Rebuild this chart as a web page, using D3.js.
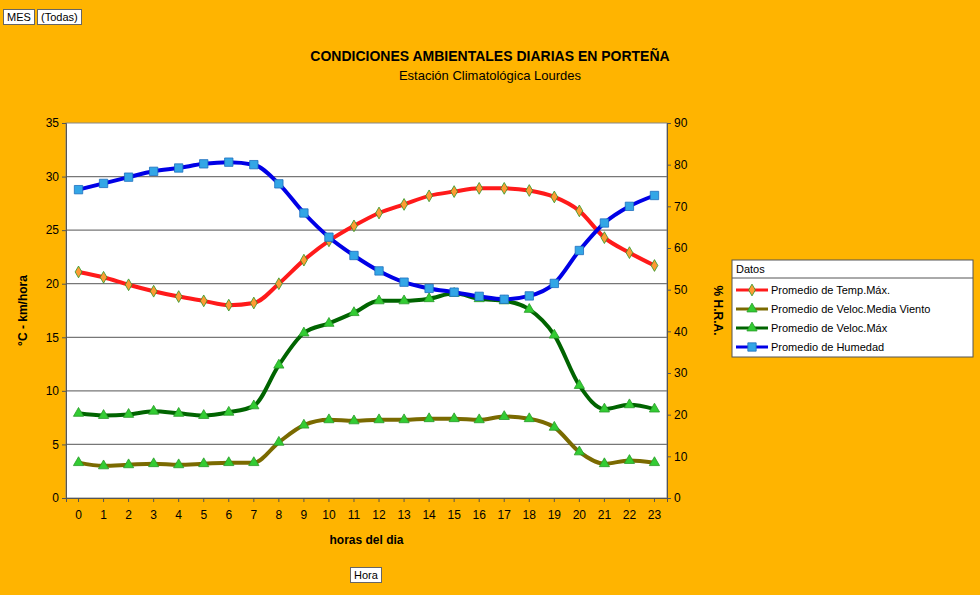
<!DOCTYPE html>
<html><head><meta charset="utf-8">
<script src="https://cdn.jsdelivr.net/npm/d3@7"></script>
<style>
body{margin:0;background:#FFB400;font-family:Arial,"Liberation Sans",sans-serif;}
.btn{position:absolute;background:#fff;border:1px solid #666;font-size:11px;padding:0 3px;line-height:14px;}
</style></head><body>
<div class="btn" style="left:3px;top:9px;">MES</div>
<div class="btn" style="left:37px;top:9px;">(Todas)</div>
<div class="btn" style="left:350px;top:567px;">Hora</div>
<svg id="chart"></svg>
<script>
const horas = d3.range(0, 24);
const tempMax = [21.1,20.6,19.9,19.3,18.8,18.4,18.0,18.2,20.0,22.2,24.0,25.4,26.6,27.4,28.2,28.6,28.9,28.9,28.7,28.1,26.8,24.3,22.9,21.7];
const velMedia = [3.3,3.0,3.1,3.2,3.1,3.2,3.3,3.3,5.2,6.8,7.3,7.2,7.3,7.3,7.4,7.4,7.3,7.6,7.4,6.6,4.3,3.2,3.5,3.3];
const velMax = [7.9,7.7,7.8,8.1,7.9,7.7,8.0,8.6,12.4,15.4,16.3,17.3,18.4,18.4,18.6,19.1,18.6,18.4,17.6,15.2,10.5,8.3,8.7,8.3];
const humedad = [74.0,75.5,77.0,78.4,79.2,80.2,80.6,80.0,75.4,68.4,62.6,58.2,54.5,51.8,50.3,49.4,48.4,47.7,48.5,51.5,59.4,66.0,70.0,72.6];
const leftTicks = [0,5,10,15,20,25,30,35];
const rightTicks = [0,10,20,30,40,50,60,70,80,90];

const svg = d3.select('#chart').attr('width', 980).attr('height', 595);
const x0 = 66, x1 = 667, yTop = 123, yBot = 498;
const xScale = d3.scaleBand().domain(horas).range([x0, x1]);
const cx = d => xScale(d) + xScale.bandwidth() / 2;
const yL = d3.scaleLinear().domain([0, 35]).range([yBot, yTop]);
const yR = d3.scaleLinear().domain([0, 90]).range([yBot, yTop]);

svg.append('text').attr('x', 490).attr('y', 61).attr('text-anchor', 'middle')
  .style('font-weight', 'bold').style('font-size', '14px').text('CONDICIONES AMBIENTALES DIARIAS EN PORTEÑA');
svg.append('text').attr('x', 490).attr('y', 80).attr('text-anchor', 'middle')
  .style('font-size', '13px').text('Estación Climatológica Lourdes');

svg.append('rect').attr('x', x0).attr('y', yTop).attr('width', x1 - x0).attr('height', yBot - yTop)
  .attr('fill', '#fff').attr('stroke', '#888');
svg.append('g').selectAll('line').data(leftTicks.slice(1, -1)).join('line')
  .attr('x1', x0).attr('x2', x1).attr('y1', d => yL(d)).attr('y2', d => yL(d))
  .attr('stroke', '#777').attr('stroke-width', 1.3);

const axStyle = g => { g.selectAll('text').style('font-size', '12px').attr('fill', '#000'); g.select('.domain').attr('stroke', '#555'); g.selectAll('.tick line').attr('stroke', '#555'); };
svg.append('g').attr('transform', `translate(${x0},0)`).call(d3.axisLeft(yL).tickValues(leftTicks).tickSize(4)).call(axStyle);
svg.append('g').attr('transform', `translate(${x1},0)`).call(d3.axisRight(yR).tickValues(rightTicks).tickSize(4)).call(axStyle);
svg.append('g').attr('transform', `translate(0,${yBot})`).call(d3.axisBottom(xScale).tickSize(4).tickPadding(8)).call(axStyle);

svg.append('text').attr('transform', `translate(27,${(yTop + yBot) / 2}) rotate(-90)`).attr('text-anchor', 'middle')
  .style('font-weight', 'bold').style('font-size', '12px').text('°C - km/hora');
svg.append('text').attr('transform', `translate(714,${(yTop + yBot) / 2}) rotate(90)`).attr('text-anchor', 'middle')
  .style('font-weight', 'bold').style('font-size', '12px').text('% H.R.A.');
svg.append('text').attr('x', (x0 + x1) / 2).attr('y', 544).attr('text-anchor', 'middle')
  .style('font-weight', 'bold').style('font-size', '12px').text('horas del dia');

const series = [
  {name: 'Promedio de Temp.Máx.', data: tempMax, y: yL, color: '#FF1A1A', mk: 'diamond', mfill: '#FF9A33'},
  {name: 'Promedio de Veloc.Media Viento', data: velMedia, y: yL, color: '#7A6A00', mk: 'triangle', mfill: '#33CC33'},
  {name: 'Promedio de Veloc.Máx', data: velMax, y: yL, color: '#006400', mk: 'triangle', mfill: '#33CC33'},
  {name: 'Promedio de Humedad', data: humedad, y: yR, color: '#0000E6', mk: 'square', mfill: '#33A6E6'}
];
const sym = {diamond: d3.symbolDiamond, triangle: d3.symbolTriangle, square: d3.symbolSquare};
const size = {diamond: 40, triangle: 45, square: 70};

series.forEach(s => {
  const line = d3.line().x((d, i) => cx(horas[i])).y(d => s.y(d)).curve(d3.curveMonotoneX);
  svg.append('path').datum(s.data).attr('d', line).attr('fill', 'none')
    .attr('stroke', s.color).attr('stroke-width', 4);
  svg.append('g').selectAll('path').data(s.data).join('path')
    .attr('d', d3.symbol(sym[s.mk], size[s.mk]))
    .attr('transform', (d, i) => `translate(${cx(horas[i])},${s.y(d)})`)
    .attr('fill', s.mfill).attr('stroke', s.mk === 'square' ? '#1E6FBF' : '#2A9A2A').attr('stroke-width', 0.8);
});

// legend
const lg = svg.append('g').attr('transform', 'translate(732,260)');
lg.append('rect').attr('width', 241).attr('height', 97).attr('fill', '#fff').attr('stroke', '#555');
lg.append('line').attr('x1', 0).attr('x2', 241).attr('y1', 18).attr('y2', 18).attr('stroke', '#555');
lg.append('text').attr('x', 4).attr('y', 13).style('font-size', '11px').text('Datos');
series.forEach((s, i) => {
  const y = 30 + i * 19;
  lg.append('line').attr('x1', 4).attr('x2', 36).attr('y1', y).attr('y2', y).attr('stroke', s.color).attr('stroke-width', 3);
  lg.append('path').attr('d', d3.symbol(sym[s.mk], size[s.mk])).attr('transform', `translate(20,${y})`)
    .attr('fill', s.mfill).attr('stroke', s.mk === 'square' ? '#1E6FBF' : '#2A9A2A').attr('stroke-width', 0.8);
  lg.append('text').attr('x', 39).attr('y', y + 4).style('font-size', '11px').text(s.name);
});
</script>
</body></html>
